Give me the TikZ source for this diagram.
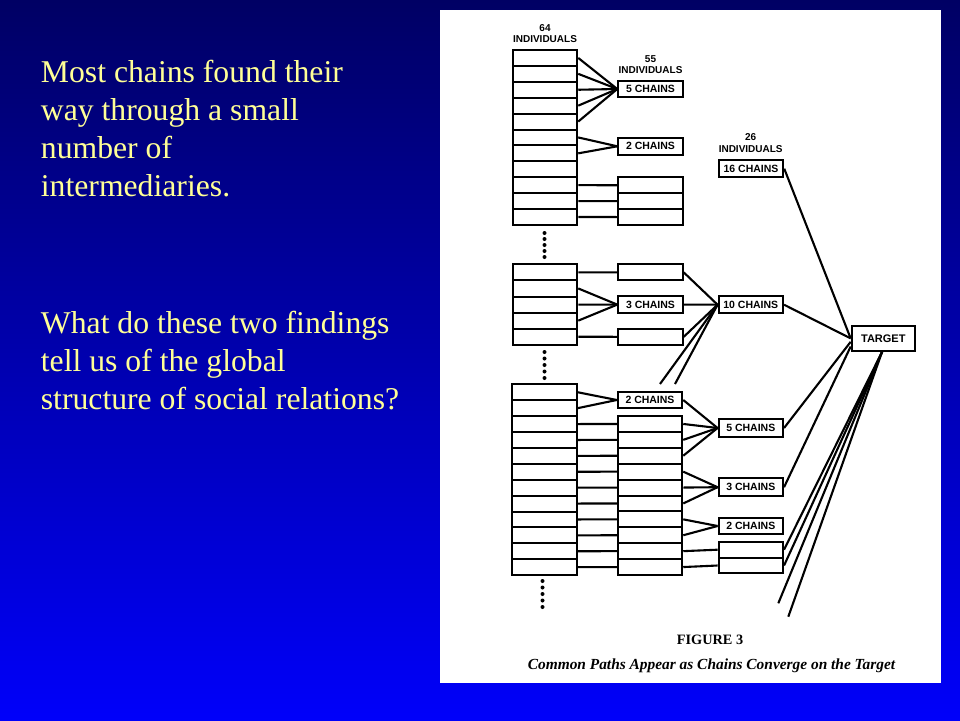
\documentclass[tikz,border=0pt]{standalone}
\usepackage{fontspec}
\setmainfont{Liberation Serif}
\newfontfamily\labelfont{Liberation Sans}
\usepackage{tikz}
\usetikzlibrary{calc}

\definecolor{slidetop}{RGB}{0,0,100}
\definecolor{slidebottom}{RGB}{0,0,250}
\definecolor{msgyellow}{RGB}{255,255,150}

\begin{document}
\begin{tikzpicture}[x=1pt, y=-1pt,
    cell/.style={draw, line width=2pt, minimum width=64.5pt, minimum height=15.9pt, inner sep=0pt},
    chainbox/.style={cell, minimum height=16.6pt, font=\labelfont\bfseries\fontsize{10.5}{12}\selectfont},
    link/.style={line width=2.1pt},
    headcount/.style={align=center, inner sep=0pt, font=\labelfont\bfseries\fontsize{10}{11.5}\selectfont},
    msg/.style={anchor=base west, inner sep=0pt, text=msgyellow, font=\fontsize{31.7}{36}\selectfont}]
    \shade[top color=slidetop, bottom color=slidebottom] (0,0) rectangle (960,720);
    \useasboundingbox (0,0) rectangle (960,720);
    \fill[white] (440,10) rectangle (941,683);

    \foreach \ln [count=\i from 0] in {Most chains found their, way through a small, number of, intermediaries.}
        \node[msg] (m\i) at (40.7, 82.3+38.1*\i) {\ln};
    \foreach \ln [count=\i from 0] in {What do these two findings, tell us of the global, structure of social relations?}
        \node[msg] (q\i) at (40.7, 333.3+38.1*\i) {\ln};

    \foreach \i in {1,...,11}
        \node[cell] (a\i) at (545, 50+15.9*\i-7.95) {};
    \node[headcount] (nA) at (545,33.5) {64\\INDIVIDUALS};
    \node[headcount] (nB) at (650.5,64.5) {55\\INDIVIDUALS};
    \node[chainbox] (fiveA) at (650.5,89) {5 CHAINS};
    \node[chainbox] (twoA) at (650.5,146.3) {2 CHAINS};
    \foreach \i in {1,2,3}
        \node[cell] (b\i) at (650.5, 177.3+15.9*\i-7.95) {};
    \foreach \i in {1,...,5} \draw[link] (a\i.east) -- (fiveA.west);
    \foreach \i in {6,7} \draw[link] (a\i.east) -- (twoA.west);
    \foreach \i [count=\k] in {9,10,11} \draw[link] (a\i.east) -- (b\k.west);
    \foreach \y in {233,239,...,257} \fill (544.5,\y) circle (2);

    \foreach \i in {1,...,5}
        \node[cell, minimum height=16.1pt] (c\i) at (545, 264.3+16.1*\i-8.05) {};
    \node[cell] (d1) at (650.5,272.4) {};
    \node[chainbox] (threeC) at (650.5,304.6) {3 CHAINS};
    \node[cell] (d2) at (650.5,336.8) {};
    \draw[link] (c1.east) -- (d1.west);
    \foreach \i in {2,3,4} \draw[link] (c\i.east) -- (threeC.west);
    \draw[link] (c5.east) -- (d2.west);
    \foreach \y in {352,358.5,...,378} \fill (544.5,\y) circle (2);

    \node[chainbox] (tenC) at (750.8,304.7) {10 CHAINS};
    \coordinate (loose1) at (660,384);
    \coordinate (loose2) at (675,384);
    \foreach \n in {d1, threeC, d2} \draw[link] (\n.east) -- (tenC.west);
    \foreach \n in {loose1, loose2} \draw[link] (\n) -- (tenC.west);

    \foreach \i in {1,...,12}
        \node[cell] (e\i) at (544.5, 384.3+15.9*\i-7.95) {};
    \node[chainbox] (twoE) at (650,400) {2 CHAINS};
    \foreach \i in {1,...,10}
        \node[cell] (f\i) at (650, 416+15.9*\i-7.95) {};
    \foreach \i in {1,2} \draw[link] (e\i.east) -- (twoE.west);
    \foreach \i [count=\k] in {3,...,12} \draw[link] (e\i.east) -- (f\k.west);
    \foreach \y in {581,587.5,...,607} \fill (542.5,\y) circle (2);

    \node[chainbox, minimum height=17.4pt] (fiveG) at (750.8,428) {5 CHAINS};
    \node[chainbox, minimum height=17.7pt] (threeG) at (750.8,487.2) {3 CHAINS};
    \node[chainbox] (twoG) at (750.8,526) {2 CHAINS};
    \node[cell, minimum height=15.8pt] (g1) at (750.8,549.7) {};
    \node[cell, minimum height=15.8pt] (g2) at (750.8,565.5) {};
    \draw[link] (twoE.east) -- (fiveG.west);
    \foreach \i in {1,2,3} \draw[link] (f\i.east) -- (fiveG.west);
    \foreach \i in {4,5,6} \draw[link] (f\i.east) -- (threeG.west);
    \foreach \i in {7,8} \draw[link] (f\i.east) -- (twoG.west);
    \draw[link] (f9.east) -- (g1.west);
    \draw[link] (f10.east) -- (g2.west);

    \node[headcount] (nH) at (750.7,143.3) {26\\INDIVIDUALS};
    \node[chainbox, minimum height=17.3pt] (sixteen) at (751,168.7) {16 CHAINS};
    \node[chainbox, minimum width=63.3pt, minimum height=24.5pt, font=\labelfont\bfseries\fontsize{11}{13}\selectfont] (target) at (883.3,338.4) {TARGET};
    \draw[link] (sixteen.east) -- (target.west);
    \draw[link] (tenC.east) -- (target.west);
    \draw[link] (fiveG.east) -- (target.186);
    \draw[link] (threeG.east) -- (target.194);
    \coordinate (loose3) at (778.3,603.3);
    \coordinate (loose4) at (788.3,616.7);
    \foreach \n in {g1.east, g2.east, loose3, loose4} \draw[link] (target.265) -- (\n);

    \node[font=\bfseries\fontsize{14.3}{16}\selectfont, inner sep=0pt] (figno) at (710,640) {FIGURE 3};
    \node[font=\bfseries\itshape\fontsize{15.4}{18}\selectfont, inner sep=0pt] (caption) at (711.5,666) {Common Paths Appear as Chains Converge on the Target};
\end{tikzpicture}
\end{document}
